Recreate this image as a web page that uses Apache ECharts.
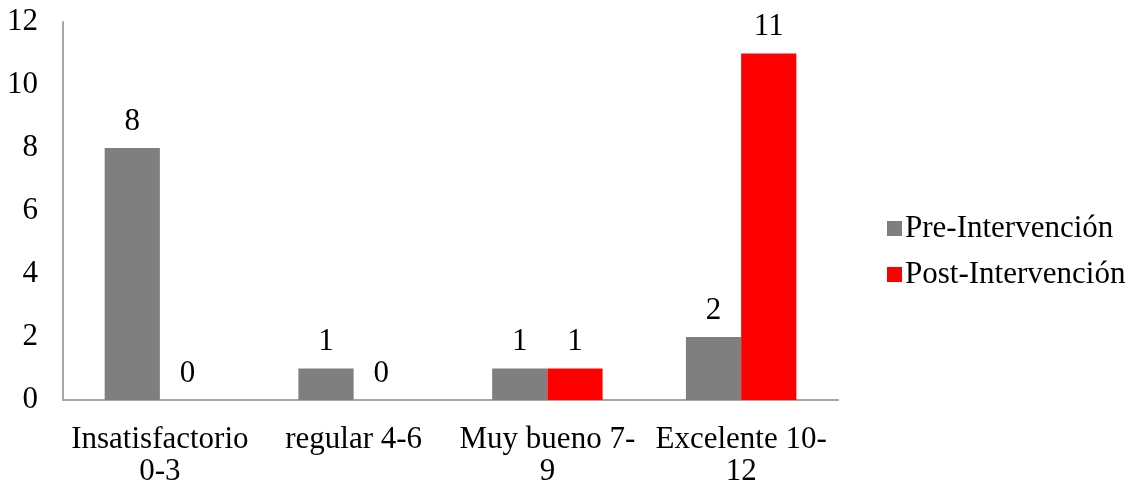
<!DOCTYPE html>
<html>
<head>
<meta charset="utf-8">
<script src="https://cdn.jsdelivr.net/npm/echarts@6/dist/echarts.min.js"></script>
<style>
  html, body { margin: 0; padding: 0; background: #fff; }
  #chart { width: 1135px; height: 488px; }
</style>
</head>
<body>
<div id="chart"></div>
<script>
// Score bands and counts of students before and after the intervention
const categories = ['Insatisfactorio\n0-3', 'regular 4-6', 'Muy bueno 7-\n9', 'Excelente 10-\n12'];
const preIntervencion = [8, 1, 1, 2];
const postIntervencion = [0, 0, 1, 11];
const seriesNames = ['Pre-Intervención', 'Post-Intervención'];

const FONT = '"Liberation Serif", "Times New Roman", serif';
const FS = 31;

const chart = echarts.init(document.getElementById('chart'), null, { renderer: 'canvas' });

const labelStyle = {
  show: true,
  position: 'top',
  distance: 11,
  color: '#000',
  fontFamily: FONT,
  fontSize: FS
};

chart.setOption({
  animation: false,
  backgroundColor: '#fff',
  textStyle: { fontFamily: FONT },
  grid: { left: 63, top: 22, width: 775, height: 380, containLabel: false },
  legend: {
    orient: 'vertical',
    left: 882,
    top: 208,
    itemWidth: 15,
    itemHeight: 15,
    itemGap: 15,
    icon: 'rect',
    textStyle: { fontFamily: FONT, fontSize: FS, color: '#000', padding: [0, 0, 0, -2] },
    data: seriesNames
  },
  xAxis: {
    type: 'category',
    data: categories,
    axisLine: { show: true, lineStyle: { color: '#a6a6a6', width: 2 } },
    axisTick: { show: false },
    axisLabel: {
      color: '#000',
      fontFamily: FONT,
      fontSize: FS,
      margin: 24,
      lineHeight: 32,
      interval: 0
    }
  },
  yAxis: {
    type: 'value',
    min: 0,
    max: 12,
    interval: 2,
    splitLine: { show: false },
    axisLine: { show: true, lineStyle: { color: '#a6a6a6', width: 2 } },
    axisTick: { show: false },
    axisLabel: { color: '#000', fontFamily: FONT, fontSize: FS, margin: 25 }
  },
  series: [
    {
      name: seriesNames[0],
      type: 'bar',
      data: preIntervencion,
      barGap: '0%',
      barCategoryGap: '43%',
      itemStyle: { color: '#7f7f7f' },
      label: labelStyle
    },
    {
      name: seriesNames[1],
      type: 'bar',
      data: postIntervencion,
      itemStyle: { color: '#ff0000' },
      label: labelStyle
    }
  ]
});
</script>
</body>
</html>
